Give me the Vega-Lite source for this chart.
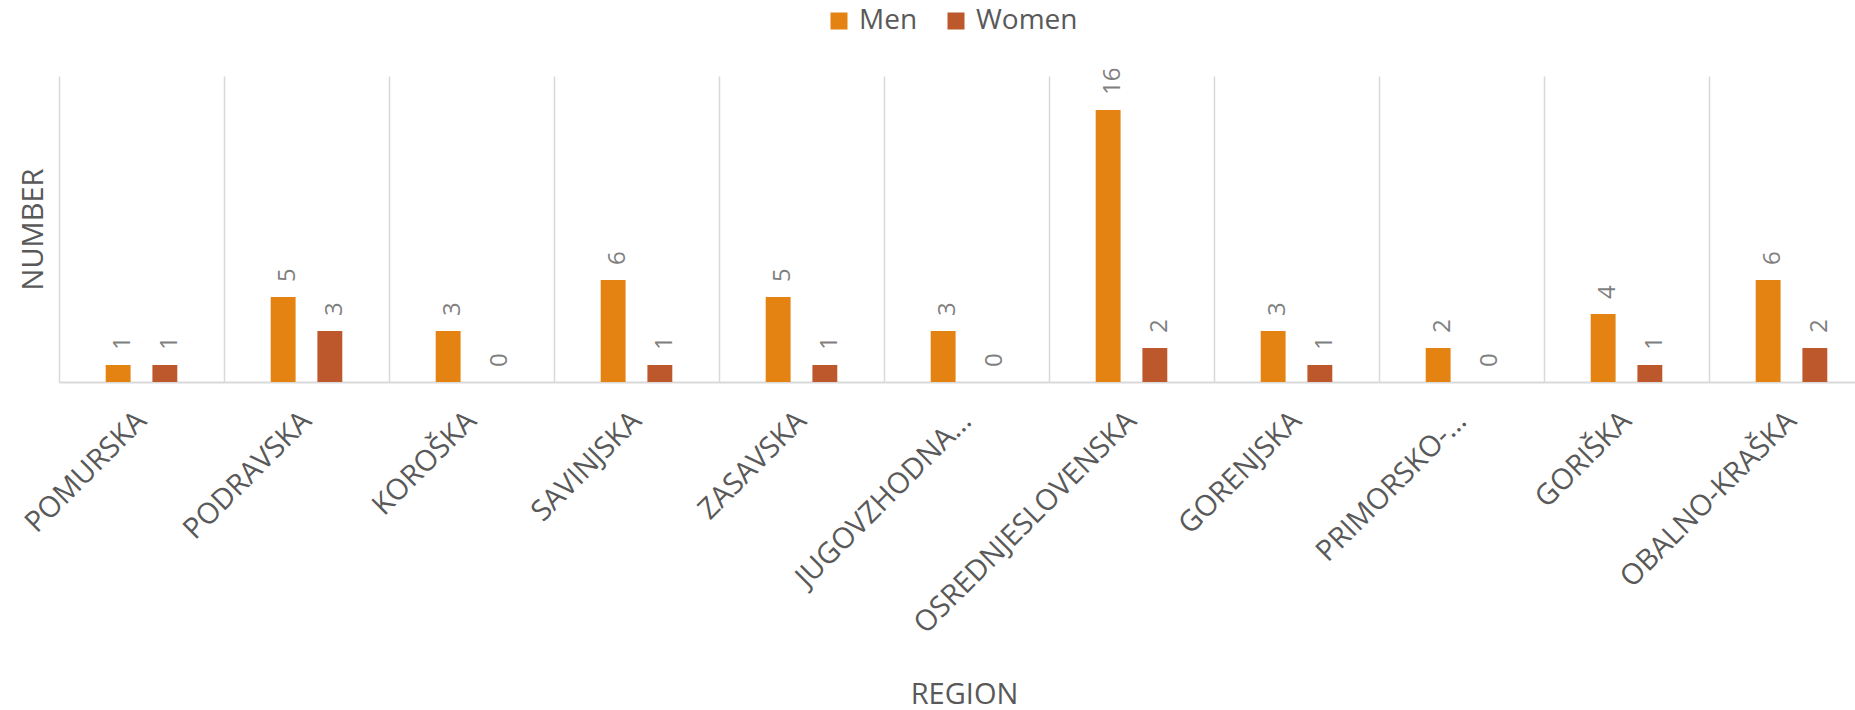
{
  "$schema": "https://vega.github.io/schema/vega-lite/v6.json",
  "autosize": {"type": "none"},
  "padding": {"left": 59, "top": 76, "right": 0, "bottom": 328},
  "width": 1796,
  "height": 306,
  "background": "#ffffff",
  "config": {
    "font": "Open Sans",
    "view": {"stroke": null}
  },
  "data": {
    "values": [
      {"region": "POMURSKA", "sex": "Men", "value": 1},
      {"region": "POMURSKA", "sex": "Women", "value": 1},
      {"region": "PODRAVSKA", "sex": "Men", "value": 5},
      {"region": "PODRAVSKA", "sex": "Women", "value": 3},
      {"region": "KOROŠKA", "sex": "Men", "value": 3},
      {"region": "KOROŠKA", "sex": "Women", "value": 0},
      {"region": "SAVINJSKA", "sex": "Men", "value": 6},
      {"region": "SAVINJSKA", "sex": "Women", "value": 1},
      {"region": "ZASAVSKA", "sex": "Men", "value": 5},
      {"region": "ZASAVSKA", "sex": "Women", "value": 1},
      {"region": "JUGOVZHODNA…", "sex": "Men", "value": 3},
      {"region": "JUGOVZHODNA…", "sex": "Women", "value": 0},
      {"region": "OSREDNJESLOVENSKA", "sex": "Men", "value": 16},
      {"region": "OSREDNJESLOVENSKA", "sex": "Women", "value": 2},
      {"region": "GORENJSKA", "sex": "Men", "value": 3},
      {"region": "GORENJSKA", "sex": "Women", "value": 1},
      {"region": "PRIMORSKO-…", "sex": "Men", "value": 2},
      {"region": "PRIMORSKO-…", "sex": "Women", "value": 0},
      {"region": "GORIŠKA", "sex": "Men", "value": 4},
      {"region": "GORIŠKA", "sex": "Women", "value": 1},
      {"region": "OBALNO-KRAŠKA", "sex": "Men", "value": 6},
      {"region": "OBALNO-KRAŠKA", "sex": "Women", "value": 2}
    ]
  },
  "encoding": {
    "x": {
      "field": "region", "type": "nominal", "sort": null,
      "scale": {"paddingInner": 0, "paddingOuter": 0, "range": [0, 1815]},
      "axis": {
        "title": "REGION",
        "titleFontSize": 29, "titleColor": "#595959", "titleFontWeight": "normal",
        "titleX": 905, "titleY": 312, "titleBaseline": "middle", "titleAlign": "center",
        "labelAngle": -45, "labelAlign": "right", "labelBaseline": "middle",
        "labelFontSize": 29, "labelColor": "#595959",
        "labelPadding": 34, "labelLimit": 500, "labelOverlap": false,
        "ticks": false, "tickSize": 0,
        "grid": true, "gridColor": "#d9d9d9", "gridWidth": 1.5,
        "bandPosition": 0,
        "domainColor": "#d9d9d9", "domainWidth": 2
      }
    },
    "xOffset": {
      "field": "sex", "type": "nominal",
      "scale": {"paddingInner": 0.467, "paddingOuter": 1.17}
    },
    "y": {
      "field": "value", "type": "quantitative",
      "scale": {"domain": [0, 18], "nice": false},
      "axis": {
        "title": "NUMBER",
        "titleFontSize": 29, "titleColor": "#595959", "titleFontWeight": "normal",
        "titleX": -26, "titleY": 153, "titleAngle": -90, "titleBaseline": "middle", "titleAlign": "center",
        "labels": false, "ticks": false, "domain": false, "grid": false
      }
    }
  },
  "layer": [
    {
      "mark": {"type": "bar"},
      "encoding": {
        "color": {
          "field": "sex", "type": "nominal",
          "scale": {"domain": ["Men", "Women"], "range": ["#E48312", "#BD582C"]},
          "legend": {
            "title": null, "orient": "none", "direction": "horizontal",
            "legendX": 766, "legendY": -69,
            "symbolType": "square", "symbolSize": 289, "symbolStrokeWidth": 0,
            "labelFontSize": 28, "labelColor": "#595959", "labelOffset": 6,
            "columnPadding": 24
          }
        }
      }
    },
    {
      "mark": {
        "type": "text", "angle": 270, "align": "left", "baseline": "middle",
        "dx": 15, "dy": 5, "fontSize": 24, "color": "#7f7f7f"
      },
      "encoding": {
        "text": {"field": "value", "type": "quantitative"}
      }
    }
  ]
}
